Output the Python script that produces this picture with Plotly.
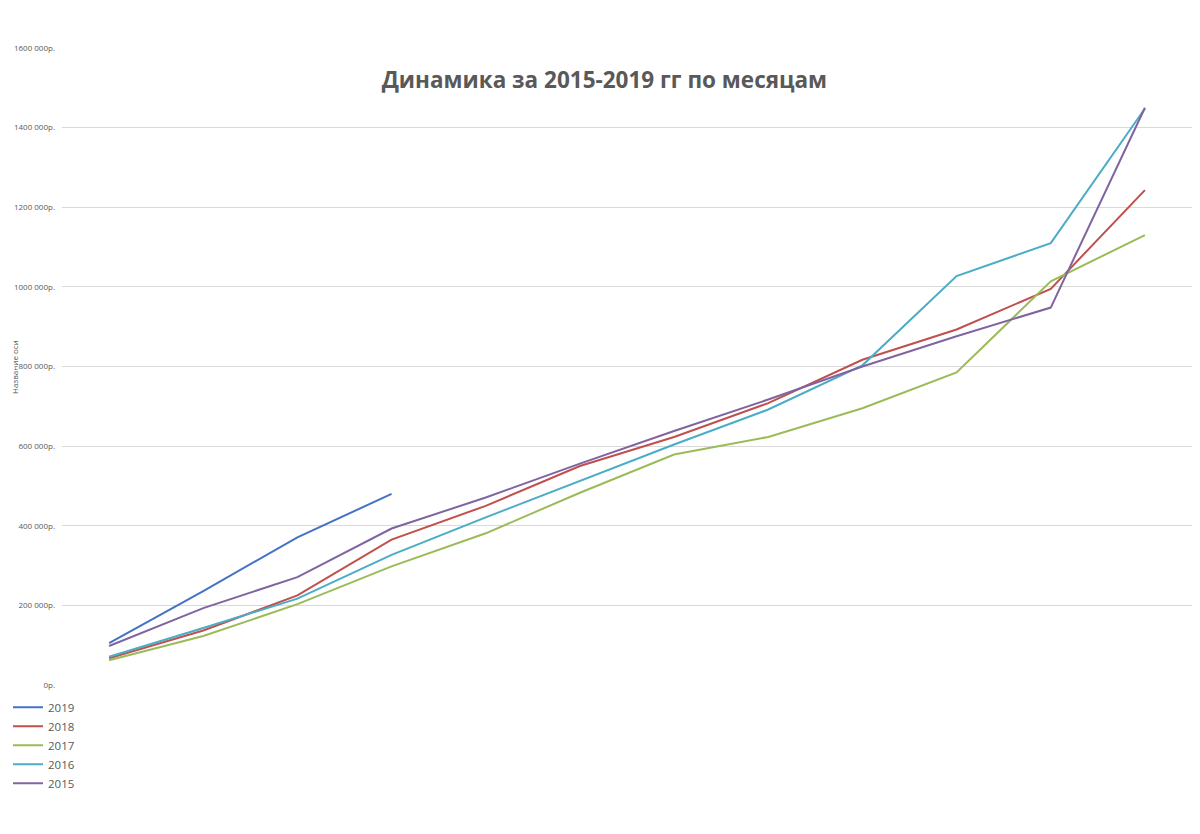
import plotly.graph_objects as go

# months (x categories, labels hidden as in the source chart)
months = ['Январь', 'Февраль', 'Март', 'Апрель', 'Май', 'Июнь',
          'Июль', 'Август', 'Сентябрь', 'Октябрь', 'Ноябрь', 'Декабрь']

# cumulative sums by month, rubles
y2019 = [105000, 236000, 371000, 480000]
y2018 = [67000, 137000, 225000, 365000, 450000, 550000, 623000, 708000, 817000, 893000, 995000, 1243000]
y2017 = [62000, 123000, 203000, 298000, 381000, 483000, 579000, 623000, 695000, 785000, 1014000, 1130000]
y2016 = [71000, 143000, 217000, 327000, 421000, 512000, 604000, 692000, 803000, 1027000, 1110000, 1448000]
y2015 = [98000, 193000, 271000, 393000, 471000, 556000, 638000, 717000, 800000, 876000, 948000, 1450000]

tick_vals = [0, 200000, 400000, 600000, 800000, 1000000, 1200000, 1400000, 1600000]
tick_text = ['0р.', '200 000р.', '400 000р.', '600 000р.', '800 000р.',
             '1000 000р.', '1200 000р.', '1400 000р.', '1600 000р.']

series = [('2019', y2019, '#4472C4'),
          ('2018', y2018, '#C0504D'),
          ('2017', y2017, '#9BBB59'),
          ('2016', y2016, '#4BACC6'),
          ('2015', y2015, '#8064A2')]

fig = go.Figure()
for name, vals, col in series:
    fig.add_trace(go.Scatter(x=months[:len(vals)], y=vals, name=name, mode='lines',
                             line=dict(color=col, width=2)))

# the page body adds 8px offset, margins are shifted for it
fig.update_layout(
    width=1200, height=834,
    paper_bgcolor='white', plot_bgcolor='white',
    margin=dict(l=54, r=16, t=40, b=157, autoexpand=False),
    font=dict(family='Open Sans', color='#595959'),
    title=dict(text='<b>Динамика за 2015-2019 гг по месяцам</b>',
               x=0.497, xanchor='center', y=1 - 72 / 834, yanchor='middle',
               font=dict(size=22.5, color='#595959')),
    showlegend=True,
    legend=dict(xref='container', yref='container', x=0.0, y=0.179,
                xanchor='left', yanchor='top', orientation='v',
                font=dict(size=11.5, color='#595959'), tracegroupgap=0,
                itemwidth=30),
)
fig.add_annotation(text='Название оси', xref='paper', yref='paper',
                   x=(6 - 54) / 1130, y=(677 - 359) / 637, textangle=-90,
                   xanchor='center', yanchor='middle',
                   showarrow=False, font=dict(size=8, color='#595959'))
fig.update_xaxes(type='category', categoryorder='array', categoryarray=months,
                 range=[-0.5, 11.5], showticklabels=False, showgrid=False,
                 showline=False, zeroline=False, ticks='', automargin=False)
fig.update_yaxes(range=[0, 1600000], tickvals=tick_vals, ticktext=tick_text,
                 showgrid=True, gridcolor='#D9D9D9', gridwidth=1,
                 zeroline=True, zerolinecolor='white', showline=False,
                 tickfont=dict(size=8, color='#595959'), ticklabelstandoff=6,
                 automargin=False)

fig.write_html("out.html")
